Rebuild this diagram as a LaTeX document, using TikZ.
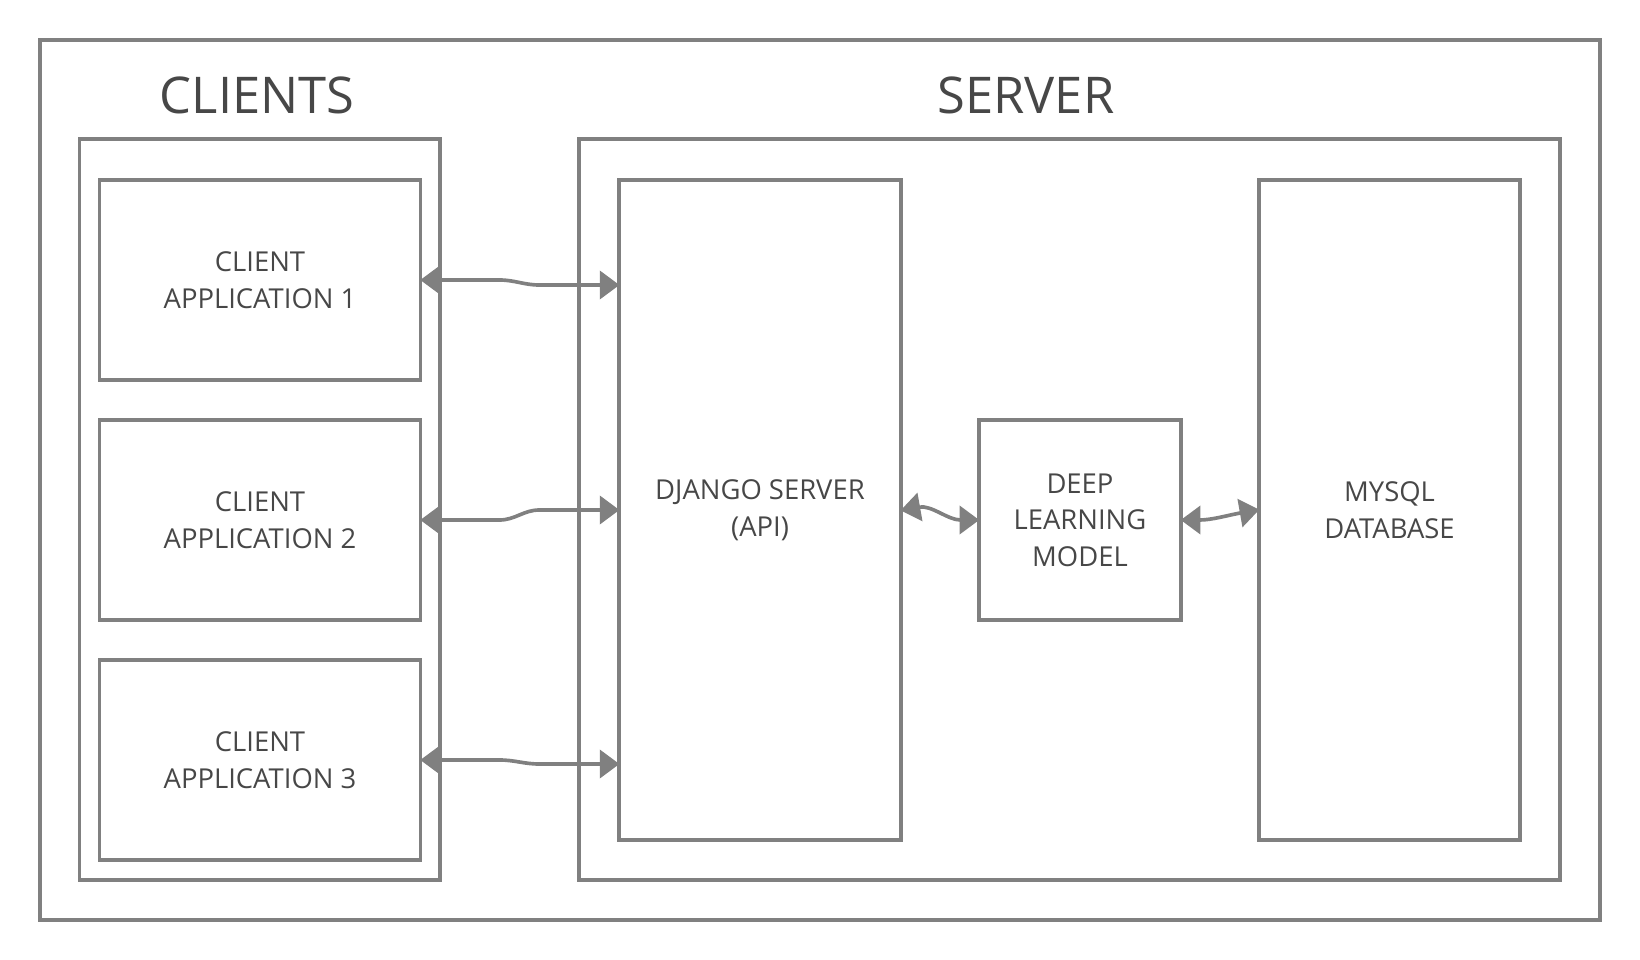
\documentclass[tikz,border=0pt]{standalone}
\usepackage{fontspec}
\setmainfont{Open Sans}
\usepackage{tikz}
\usetikzlibrary{arrows.meta}

\definecolor{linegray}{HTML}{808080}
\definecolor{textgray}{HTML}{474747}

\tikzset{
    frame/.style={draw=linegray, line width=2.6pt, inner sep=0pt},
    block/.style={frame, align=center, text=textgray,
        font=\fontsize{19.5}{26}\selectfont},
    title/.style={text=textgray, font=\fontsize{36}{40}\selectfont},
    link/.style={draw=linegray, line width=2.6pt,
        shorten <=-1.5pt, shorten >=-1.5pt,
        {Triangle[length=14pt,width=20pt]}-{Triangle[length=14pt,width=20pt]}}
}

\begin{document}
\begin{tikzpicture}[x=0.025cm, y=-0.025cm]
    \useasboundingbox (0,0) rectangle (1640,960);

    % Draw the outer frames
    \node[frame, minimum width=39.0cm, minimum height=22.0cm] (outer) at (820,480) {};
    \node[frame, minimum width=9.01cm, minimum height=18.52cm] (clients) at (259.7,509.5) {};
    \node[frame, minimum width=24.53cm, minimum height=18.52cm] (server) at (1069.5,509.5) {};

    % Titles
    \node[title] (clientstitle) at (257,95) {CLIENTS};
    \node[title] (servertitle) at (1026,95) {SERVER};

    % Client applications
    \foreach \i/\y in {1/280, 2/520, 3/760} {
        \node[block, minimum width=8.025cm, minimum height=5.0cm] (c\i) at (260,\y)
            {CLIENT\\APPLICATION \i};
    }

    % Server blocks
    \node[block, minimum width=7.04cm, minimum height=16.5cm] (django) at (760,510)
        {DJANGO SERVER\\(API)};
    \node[block, minimum width=5.05cm, minimum height=5.0cm] (dl) at (1080,520)
        {DEEP\\LEARNING\\MODEL};
    \node[block, minimum width=6.52cm, minimum height=16.5cm] (mysql) at (1389.5,510)
        {MYSQL\\DATABASE};

    % Arrows between clients and the API
    \foreach \i/\dy in {1/5, 2/-10, 3/4} {
        \draw[link] (c\i.east) -- ++(77,0) to[out=0,in=180] ++(40,\dy)
            -- ([yshift=-\dy*0.025cm]c\i.east -| django.west);
    }

    % Arrows inside the server
    \draw[link] (django.east) to[out=10,in=180] (dl.west);
    \draw[link] (dl.east) to[out=0,in=190] (mysql.west);

\end{tikzpicture}
\end{document}
